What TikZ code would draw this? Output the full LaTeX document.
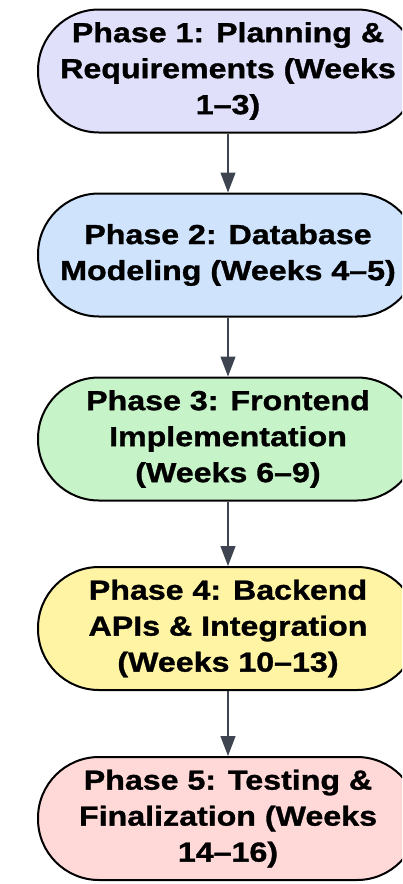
\documentclass[tikz,border=0pt]{standalone}
\usepackage{fontspec}
\setmainfont{Liberation Sans}[FakeStretch=1.17, BoldFeatures={FakeBold=1.2}]
\usepackage{tikz}
\usepackage{xcolor}
\usetikzlibrary{arrows.meta}

\definecolor{planfill}{HTML}{E0E0FA}
\definecolor{dbfill}{HTML}{CFE4FC}
\definecolor{frontfill}{HTML}{C6F3C8}
\definecolor{backfill}{HTML}{FFF4A3}
\definecolor{testfill}{HTML}{FFD8D8}
\definecolor{arrowgray}{HTML}{3E4450}

\tikzset{
  phase/.style={draw=black, line width=2pt, rounded corners=61pt,
    minimum width=380pt, minimum height=123pt, inner sep=0pt,
    align=center, font=\bfseries\fontsize{27.5}{36}\selectfont},
  flow/.style={draw=arrowgray, line width=1.3pt,
    -{Triangle[length=20pt,width=15pt,fill=arrowgray]}}
}

\begin{document}
\begin{tikzpicture}[x=1pt,y=-1pt]
  \useasboundingbox (0,0) rectangle (402,884);
  \clip (0,0) rectangle (402,884);

  % phases
  \node[phase, fill=planfill] (plan) at (228,71) {Phase 1: Planning \&\\Requirements (Weeks\\1--3)};
  \node[phase, fill=dbfill] (db) at (228,255) {Phase 2: Database\\Modeling (Weeks 4--5)};
  \node[phase, fill=frontfill] (front) at (228,439) {Phase 3: Frontend\\Implementation\\(Weeks 6--9)};
  \node[phase, fill=backfill] (back) at (228,628.5) {Phase 4: Backend\\APIs \& Integration\\(Weeks 10--13)};
  \node[phase, fill=testfill] (test) at (228,818.5) {Phase 5: Testing \&\\Finalization (Weeks\\14--16)};

  % arrows
  \draw[flow] (plan) -- (db);
  \draw[flow] (db) -- (front);
  \draw[flow] (front) -- (back);
  \draw[flow] (back) -- (test);
\end{tikzpicture}
\end{document}
